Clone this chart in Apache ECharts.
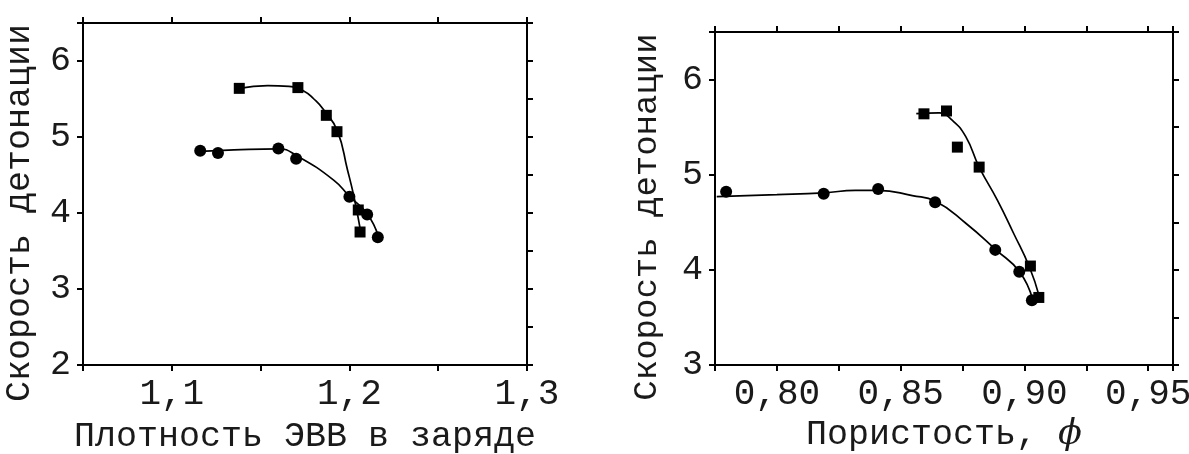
<!DOCTYPE html>
<html>
<head>
<meta charset="utf-8">
<title>Скорость детонации</title>
<script src="https://cdn.jsdelivr.net/npm/echarts@6/dist/echarts.min.js"></script>
<style>
  html, body { margin: 0; padding: 0; background: #ffffff; }
  #chart { width: 1189px; height: 454px; }
</style>
</head>
<body>
<div id="chart"></div>
<script>
// левая панель: скорость детонации от плотности ЭВВ в заряде
const densSquareX = [1.138, 1.171, 1.187, 1.193, 1.205, 1.206]
const densSquareY = [5.64, 5.65, 5.285, 5.07, 4.04, 3.75]
const densCircleX = [1.116, 1.126, 1.160, 1.170, 1.200, 1.210, 1.216]
const densCircleY = [4.82, 4.79, 4.85, 4.715, 4.215, 3.98, 3.68]
// сглаживающие кривые (точки)
const densSquareFitX = [1.138, 1.154, 1.166, 1.174, 1.180, 1.1855, 1.1932, 1.1989, 1.2026, 1.206]
const densSquareFitY = [5.64, 5.675, 5.665, 5.61, 5.50, 5.36, 5.08, 4.57, 4.21, 3.80]
const densCircleFitX = [1.116, 1.135, 1.160, 1.1706, 1.1913, 1.200, 1.210, 1.2162]
const densCircleFitY = [4.81, 4.83, 4.845, 4.75, 4.43, 4.22, 3.99, 3.70]

// правая панель: скорость детонации от пористости
const porSquareX = [0.8594, 0.8685, 0.8729, 0.8817, 0.9024, 0.9058]
const porSquareY = [5.64, 5.67, 5.29, 5.08, 4.04, 3.71]
const porCircleX = [0.7795, 0.8189, 0.8409, 0.8639, 0.8882, 0.8979, 0.9030]
const porCircleY = [4.82, 4.80, 4.85, 4.71, 4.21, 3.98, 3.68]
const porSquareFitX = [0.8563, 0.8655, 0.8709, 0.8763, 0.8817, 0.8891, 0.8955, 0.9020, 0.9060]
const porSquareFitY = [5.643, 5.65, 5.57, 5.40, 5.08, 4.73, 4.39, 4.03, 3.72]
const porCircleFitX = [0.7757, 0.800, 0.819, 0.8317, 0.8409, 0.8547, 0.8641, 0.8763, 0.8885, 0.898, 0.9033]
const porCircleFitY = [4.77, 4.79, 4.81, 4.835, 4.835, 4.78, 4.72, 4.49, 4.21, 3.98, 3.69]

// подписи осей
const yTitle = 'Скорость детонации'
const densTitle = 'Плотность ЭВВ в заряде'
const porTitle = 'Пористость, {phi|ϕ}'

const FONT = 'Liberation Mono'
const INK = '#000000'

function pairs(xs, ys) {
  return xs.map((x, i) => [x, ys[i]])
}

// общая настройка линии оси и засечек
function frameAxis(extra) {
  return Object.assign({
    splitLine: { show: false },
    axisLine: { show: true, onZero: false, lineStyle: { color: INK, width: 2 } },
    axisTick: { show: true, inside: false, length: 6, lineStyle: { color: INK, width: 2 } },
    axisLabel: { show: false }
  }, extra)
}

function textStyle(size) {
  return { color: '#1a1a1a', fontFamily: FONT, fontSize: size }
}

function intLabel(v) {
  return Math.abs(v - Math.round(v)) > 1e-6 ? '' : String(Math.round(v))
}

const chart = echarts.init(document.getElementById('chart'))

const option = {
  backgroundColor: '#ffffff',
  animation: false,
  // сетки задаются в пикселях, без автоподгонки под подписи
  grid: [
    { left: 83, right: 662, top: 23, bottom: 89, outerBoundsMode: 'none', containLabel: false },
    { left: 715, right: 16, top: 32, bottom: 89, outerBoundsMode: 'none', containLabel: false }
  ],
  xAxis: [
    frameAxis({
      gridIndex: 0, type: 'value', position: 'bottom',
      min: 1.05, max: 1.3, interval: 0.05,
      name: densTitle, nameLocation: 'middle', nameGap: 54,
      nameTextStyle: textStyle(35),
      axisLabel: Object.assign({
        show: true, margin: 11, showMinLabel: true, showMaxLabel: true,
        formatter: function (v) {
          const t = v * 10
          if (Math.abs(t - Math.round(t)) > 1e-6) return ''
          return v.toFixed(1).replace('.', ',')
        }
      }, textStyle(36))
    }),
    frameAxis({ gridIndex: 0, type: 'value', position: 'top', min: 1.05, max: 1.3, interval: 0.05 }),
    frameAxis({
      gridIndex: 1, type: 'value', position: 'bottom',
      min: 0.775, max: 0.96, interval: 0.025,
      name: porTitle, nameLocation: 'middle', nameGap: 52,
      nameTextStyle: Object.assign({
        rich: {
          phi: { fontFamily: 'DejaVu Serif', fontStyle: 'italic', fontSize: 35, color: '#1a1a1a' }
        }
      }, textStyle(35)),
      axisLabel: Object.assign({
        show: true, margin: 11, showMinLabel: true, showMaxLabel: true,
        formatter: function (v) {
          const t = v * 20
          if (Math.abs(t - Math.round(t)) > 1e-6) return ''
          return v.toFixed(2).replace('.', ',')
        }
      }, textStyle(36))
    }),
    frameAxis({ gridIndex: 1, type: 'value', position: 'top', min: 0.775, max: 0.96, interval: 0.025 })
  ],
  yAxis: [
    frameAxis({
      gridIndex: 0, type: 'value', position: 'left',
      min: 2, max: 6.5, interval: 1,
      name: yTitle, nameLocation: 'middle', nameRotate: 90, nameGap: 46,
      nameTextStyle: Object.assign({ padding: [0, 38, 0, 0] }, textStyle(35)),
      axisLabel: Object.assign({ show: true, margin: 12, formatter: intLabel }, textStyle(35))
    }),
    frameAxis({ gridIndex: 0, type: 'value', position: 'right', min: 2, max: 6.5, interval: 0.5 }),
    frameAxis({
      gridIndex: 1, type: 'value', position: 'left',
      min: 3, max: 6.5, interval: 1,
      name: yTitle, nameLocation: 'middle', nameRotate: 90, nameGap: 51,
      nameTextStyle: Object.assign({ padding: [0, 37, 0, 0] }, textStyle(34)),
      axisLabel: Object.assign({ show: true, margin: 12, formatter: intLabel }, textStyle(35))
    }),
    frameAxis({ gridIndex: 1, type: 'value', position: 'right', min: 3, max: 6.5, interval: 0.5 })
  ],
  series: [
    // левая панель
    {
      type: 'line', xAxisIndex: 0, yAxisIndex: 0, smooth: 0.5, showSymbol: false,
      lineStyle: { color: INK, width: 1.7 }, data: pairs(densSquareFitX, densSquareFitY)
    },
    {
      type: 'line', xAxisIndex: 0, yAxisIndex: 0, smooth: 0.5, showSymbol: false,
      lineStyle: { color: INK, width: 1.7 }, data: pairs(densCircleFitX, densCircleFitY)
    },
    {
      type: 'scatter', xAxisIndex: 0, yAxisIndex: 0, symbol: 'rect', symbolSize: 11,
      itemStyle: { color: INK, opacity: 1 }, data: pairs(densSquareX, densSquareY)
    },
    {
      type: 'scatter', xAxisIndex: 0, yAxisIndex: 0, symbol: 'circle', symbolSize: 12,
      itemStyle: { color: INK, opacity: 1 }, data: pairs(densCircleX, densCircleY)
    },
    // правая панель
    {
      type: 'line', xAxisIndex: 2, yAxisIndex: 2, smooth: 0.5, showSymbol: false,
      lineStyle: { color: INK, width: 1.7 }, data: pairs(porSquareFitX, porSquareFitY)
    },
    {
      type: 'line', xAxisIndex: 2, yAxisIndex: 2, smooth: 0.5, showSymbol: false,
      lineStyle: { color: INK, width: 1.7 }, data: pairs(porCircleFitX, porCircleFitY)
    },
    {
      type: 'scatter', xAxisIndex: 2, yAxisIndex: 2, symbol: 'rect', symbolSize: 11,
      itemStyle: { color: INK, opacity: 1 }, data: pairs(porSquareX, porSquareY)
    },
    {
      type: 'scatter', xAxisIndex: 2, yAxisIndex: 2, symbol: 'circle', symbolSize: 12,
      itemStyle: { color: INK, opacity: 1 }, data: pairs(porCircleX, porCircleY)
    }
  ]
}

chart.setOption(option)
</script>
</body>
</html>
